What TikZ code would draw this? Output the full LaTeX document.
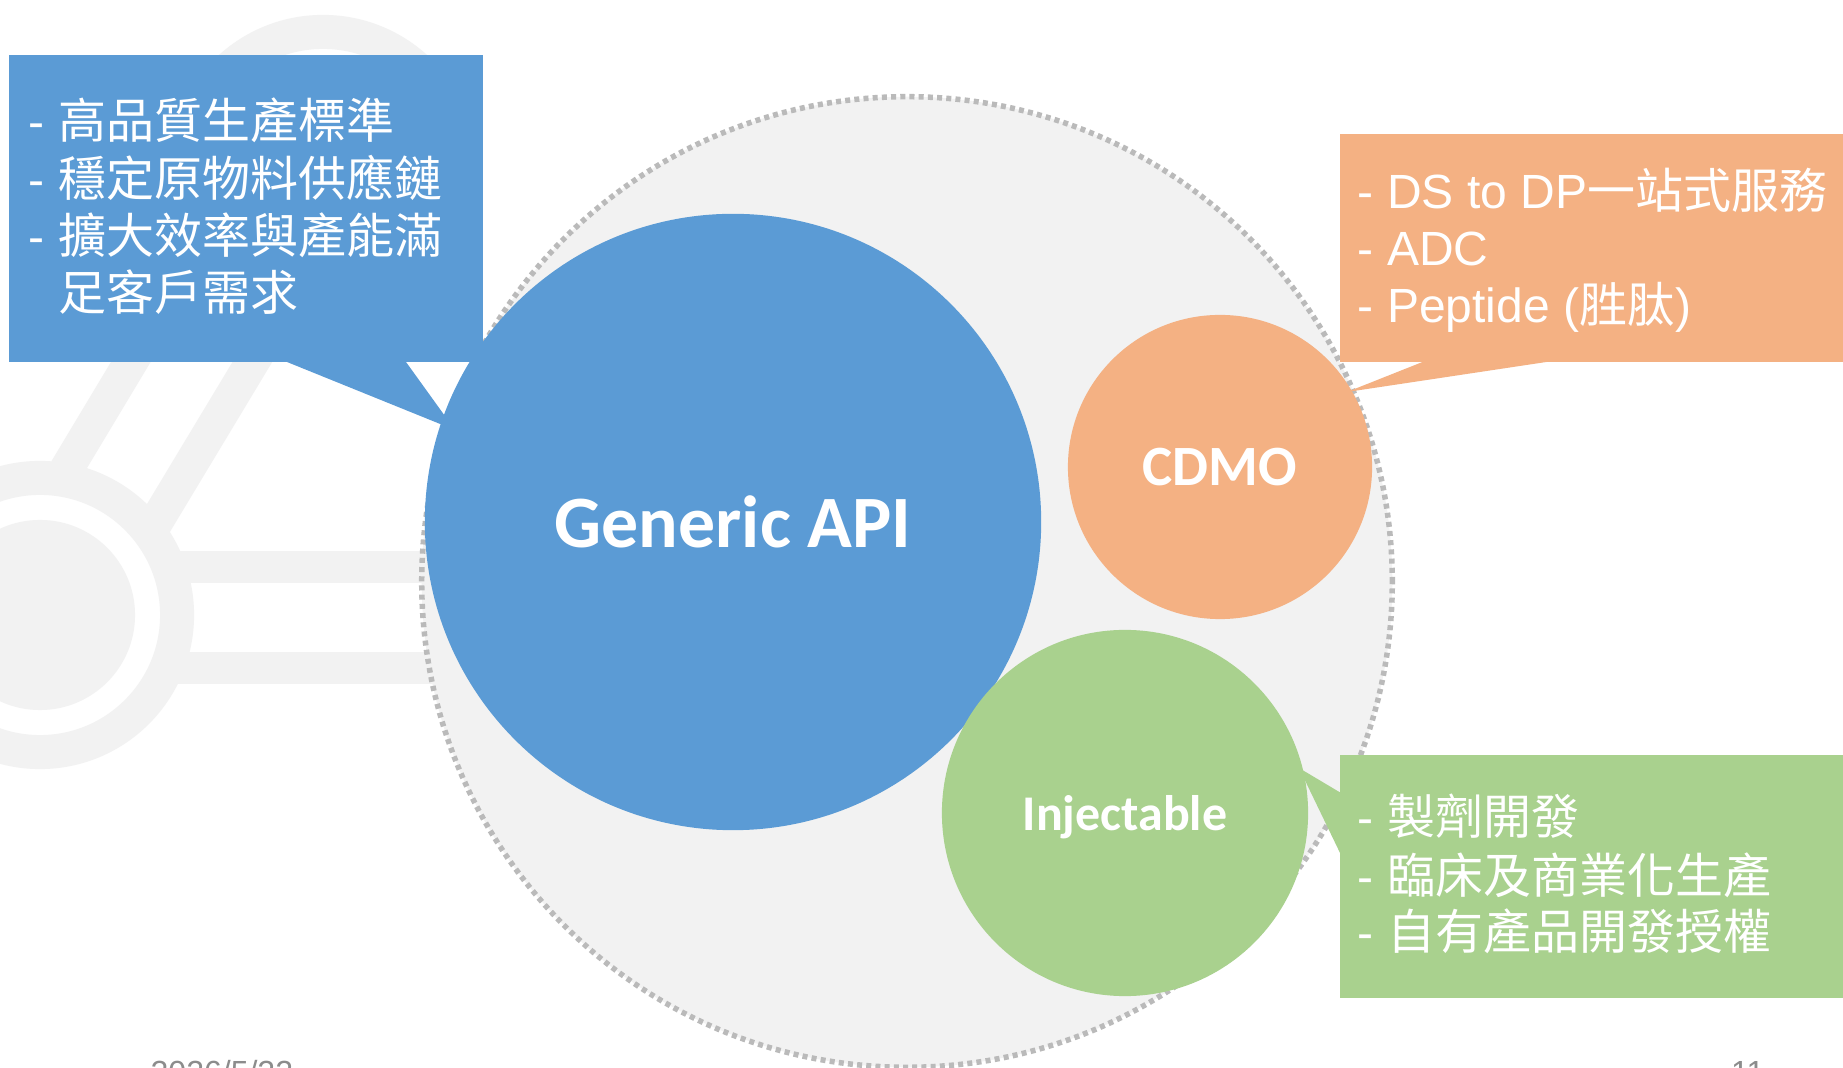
\documentclass[tikz,border=0pt]{standalone}
\usepackage{fontspec}
\setmainfont{Liberation Sans}
\newfontfamily\zhfont{Noto Sans CJK TC}
\newfontfamily\bubblefont{Carlito}
\newcommand{\zh}[1]{{\zhfont #1}}
\definecolor{apiblue}{HTML}{5B9BD5}
\definecolor{cdmoorange}{HTML}{F4B183}
\definecolor{injgreen}{HTML}{A9D18E}
\definecolor{wmgray}{HTML}{F2F2F2}
\definecolor{ringgray}{HTML}{BABABA}
\definecolor{footgray}{HTML}{8C8C8C}

\begin{document}
\begin{tikzpicture}
    [
      x=0.01cm,
      y=-0.01cm,
      bubble/.style=
      {
        circle,
        inner sep=0pt,
        text depth=0pt,
        text=white,
        font=\bubblefont\bfseries,
      },
      callout/.style=
      {
        rectangle,
        inner sep=0pt,
        minimum width=5.2cm,
      },
      item/.style=
      {
        anchor=base west,
        inner sep=0pt,
        text=white,
        font=\fontsize{13.65pt}{16pt}\selectfont
      },
      footer/.style=
      {
        inner sep=0pt,
        text=footgray,
        font=\fontsize{9.1pt}{11pt}\selectfont
      },
      bond/.style=
      {
        draw=wmgray,
        line width=0.34cm,
      }
    ]
    \useasboundingbox (0,0) rectangle (1843,1068);
    \fill[white] (0,0) rectangle (1843,1068);

    % faint molecule in the background
    \draw[bond] (323,170) circle (1.38cm);
    \fill[wmgray] (40,615) circle (0.95cm);
    \draw[bond] (40,615) circle (1.37cm);
    \draw[bond] (66,470) -- (258,150);
    \draw[bond] (147,537) -- (380,150);
    \draw[bond, line width=0.32cm] (170,567) -- (440,567);
    \draw[bond, line width=0.32cm] (170,668) -- (440,668);

    \node[circle, minimum size=9.7cm, fill=wmgray, draw=ringgray,
          line width=0.055cm, dash pattern=on 0.05cm off 0.042cm] (frame) at (907,582) {};

    % callouts
    \node[callout, fill=apiblue, minimum width=4.74cm, minimum height=3.07cm] (apibox) at (246,208.5) {};
    \coordinate (apitip) at (455,430);
    \fill[apiblue] (287,362) -- (apitip) -- (406,362) -- cycle;

    \node[callout, fill=cdmoorange, minimum height=2.28cm] (cdmobox) at (1600,248) {};
    \coordinate (cdmotip) at (1347,392);
    \fill[cdmoorange] (1425,361) -- (cdmotip) -- (1553,361) -- cycle;

    \node[callout, fill=injgreen, minimum height=2.43cm] (injbox) at (1600,876.5) {};
    \coordinate (injtip) at (1299,768);
    \fill[injgreen] (1341,793) -- (injtip) -- (1341,855) -- cycle;

    % circles
    \node[bubble, fill=apiblue, minimum size=6.16cm, font=\bubblefont\bfseries\fontsize{21pt}{24pt}\selectfont] (api) at (733,522) {Generic API};
    \node[bubble, fill=cdmoorange, minimum size=3.04cm, font=\bubblefont\bfseries\fontsize{16.2pt}{19pt}\selectfont] (cdmo) at (1220,467) {CDMO};
    \node[bubble, fill=injgreen, minimum size=3.66cm, font=\bubblefont\bfseries\fontsize{14.2pt}{17pt}\selectfont] (inj) at (1125,813) {Injectable};

    % texts
    \node[item] (api1) at (28,139) {- \zh{高品質生產標準}};
    \node[item] (api2) at (28,197) {- \zh{穩定原物料供應鏈}};
    \node[item] (api3) at (28,254) {- \zh{擴大效率與產能滿}};
    \node[item] (api4) at (28,311) {\phantom{- }\zh{足客戶需求}};

    \node[item] (cdmo1) at (1357,209) {- DS to DP\zh{一站式服務}};
    \node[item] (cdmo2) at (1357,266) {- ADC};
    \node[item] (cdmo3) at (1357,323) {- Peptide (\zh{胜肽})};

    \node[item] (inj1) at (1357,835) {- \zh{製劑開發}};
    \node[item] (inj2) at (1357,893) {- \zh{臨床及商業化生產}};
    \node[item] (inj3) at (1357,950) {- \zh{自有產品開發授權}};

    \node[footer, anchor=base west] (date) at (150,1083) {2026/5/22};
    \node[footer, anchor=base east] (page) at (1765,1083) {11};
\end{tikzpicture}
\end{document}
